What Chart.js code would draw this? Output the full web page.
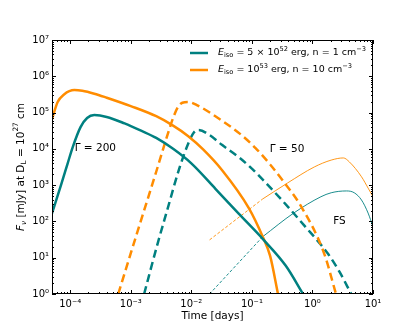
<!DOCTYPE html>
<html>
<head>
<meta charset="utf-8">
<script src="https://cdn.jsdelivr.net/npm/chart.js@4.4.1/dist/chart.umd.min.js"></script>
<style>
  html, body { margin: 0; padding: 0; background: #fff; }
</style>
</head>
<body>
<canvas id="fluxChart" width="415" height="332"></canvas>
<script>
// light curves: time in days, flux density in mJy
const rsTeal200T = [4.9e-5, 7.1e-5, 9.0e-5, 1.1e-4, 1.48e-4, 1.9e-4, 2.5e-4, 4.0e-4, 7.9e-4, 1.48e-3, 2.63e-3, 5.0e-3, 1.0e-2, 2.5e-2, 6.0e-2, 0.151, 0.363, 0.70];
const rsTeal200F = [151, 1050, 3800, 11200, 39800, 70800, 85100, 75900, 50100, 31600, 20000, 10000, 3980, 794, 166, 33, 6.0, 1];

const rsOrange200T = [4.9e-5, 6.2e-5, 7.9e-5, 1.17e-4, 1.58e-4, 2.5e-4, 4.0e-4, 1.0e-3, 2.63e-3, 5.0e-3, 8.9e-3, 1.58e-2, 3.2e-2, 8.9e-2, 0.151, 0.2, 0.27];
const rsOrange200F = [5.9e4, 1.95e5, 3.16e5, 4.17e5, 3.98e5, 3.31e5, 2.57e5, 1.51e5, 7.94e4, 4.37e4, 2.24e4, 9550, 2630, 234, 38, 11.2, 1];

const rsOrange50T = [6.2e-4, 1.26e-3, 2.63e-3, 3.98e-3, 5.0e-3, 6.0e-3, 7.1e-3, 8.9e-3, 1.26e-2, 3.2e-2, 6.3e-2, 0.115, 0.2, 0.316, 0.646, 1.55, 2.45];
const rsOrange50F = [1, 46, 2340, 2.24e4, 7.1e4, 1.41e5, 1.86e5, 1.95e5, 1.58e5, 6.0e4, 2.63e4, 1.05e4, 3720, 1410, 263, 13.5, 1];

const rsTeal50T = [1.66e-3, 2.82e-3, 3.98e-3, 6.3e-3, 8.9e-3, 1.1e-2, 1.32e-2, 2.0e-2, 3.2e-2, 6.3e-2, 0.102, 0.138, 0.316, 0.724, 1.82, 2.82, 4.37];
const rsTeal50F = [1, 27, 200, 2820, 1.41e4, 2.82e4, 3.31e4, 2.4e4, 1.29e4, 5620, 2750, 1660, 380, 79, 12.6, 4, 1];

// forward shock, dashed before the crossing time
const fsOrangeEarlyT = [0.02, 0.151];
const fsOrangeEarlyF = [31, 417];
const fsOrangeT = [0.151, 0.389, 1.07, 2.04, 3.24, 4.07, 6.46, 8.3, 10];
const fsOrangeF = [417, 1150, 3160, 4900, 5620, 4370, 1700, 830, 479];

const fsTealEarlyT = [0.02, 0.151];
const fsTealEarlyF = [1, 38];
const fsTealT = [0.151, 0.49, 1.38, 2.04, 3.63, 4.9, 6.46, 8.3, 10];
const fsTealF = [38, 170, 479, 617, 692, 617, 389, 170, 71];

const xTickValues = [1e-4, 1e-3, 1e-2, 1e-1, 1, 10];
const xTickLabels = ['10⁻⁴', '10⁻³', '10⁻²', '10⁻¹', '10⁰', '10¹'];
const yTickValues = [1, 10, 100, 1e3, 1e4, 1e5, 1e6, 1e7];
const yTickLabels = ['10⁰', '10¹', '10²', '10³', '10⁴', '10⁵', '10⁶', '10⁷'];

const TEAL = '#008080';
const ORANGE = '#ff8c00';
const FONT = '"DejaVu Sans", sans-serif';

function pts(t, f) {
    return t.map((v, i) => ({ x: v, y: f[i] }));
}

function line(t, f, color, width, dash) {
    return {
        data: pts(t, f),
        borderColor: color,
        borderWidth: width,
        borderDash: dash || [],
        showLine: true,
        pointRadius: 0,
        cubicInterpolationMode: 'monotone',
        fill: false
    };
}

// text with italic / sub / superscript pieces, like matplotlib mathtext
function rich(ctx, x, y, parts, size, draw) {
    let cx = x;
    parts.forEach(p => {
        const small = p.sub || p.sup;
        const s = small ? size * 0.7 : size;
        ctx.font = (p.it ? 'italic ' : '') + s + 'px ' + FONT;
        const dy = p.sub ? size * 0.28 : (p.sup ? -size * 0.42 : 0);
        if (draw) ctx.fillText(p.t, cx, y + dy);
        cx += ctx.measureText(p.t).width;
    });
    return cx - x;
}

const legendItems = [
    { color: TEAL, parts: [{ t: 'E', it: true }, { t: 'iso', sub: true }, { t: ' = 5 × 10' }, { t: '52', sup: true }, { t: ' erg, n = 1 cm' }, { t: '−3', sup: true }] },
    { color: ORANGE, parts: [{ t: 'E', it: true }, { t: 'iso', sub: true }, { t: ' = 10' }, { t: '53', sup: true }, { t: ' erg, n = 10 cm' }, { t: '−3', sup: true }] }
];

const yTitle = [{ t: 'F', it: true }, { t: 'ν', it: true, sub: true }, { t: ' [mJy] at D' }, { t: 'L', sub: true }, { t: ' = 10' }, { t: '27', sup: true }, { t: ' cm' }];

// label positions in data coordinates
const notes = [
    { text: 'Γ = 200', t: 2.6e-4, f: 1.05e4 },
    { text: 'Γ = 50', t: 0.38, f: 1.0e4 },
    { text: 'FS', t: 2.8, f: 98 }
];

const decorations = {
    id: 'decorations',
    afterDraw(chart) {
        const { ctx, chartArea: a, scales: { x, y } } = chart;
        ctx.save();

        // frame
        ctx.strokeStyle = '#000';
        ctx.lineWidth = 1;
        ctx.strokeRect(Math.round(a.left) + 0.5, Math.round(a.top) + 0.5, Math.round(a.width) - 1, Math.round(a.height) - 1);

        // inward ticks on all four sides
        ctx.beginPath();
        for (let e = -5; e <= 1; e++) {
            for (let d = 1; d <= 9; d++) {
                const v = d * Math.pow(10, e);
                if (v < x.min || v > x.max) continue;
                const px = Math.round(x.getPixelForValue(v)) + 0.5;
                const len = d === 1 ? 4 : 2;
                ctx.moveTo(px, a.bottom); ctx.lineTo(px, a.bottom - len);
                ctx.moveTo(px, a.top); ctx.lineTo(px, a.top + len);
            }
        }
        for (let e = 0; e <= 7; e++) {
            for (let d = 1; d <= 9; d++) {
                const v = d * Math.pow(10, e);
                if (v < y.min || v > y.max) continue;
                const py = Math.round(y.getPixelForValue(v)) + 0.5;
                const len = d === 1 ? 4 : 2;
                ctx.moveTo(a.left, py); ctx.lineTo(a.left + len, py);
                ctx.moveTo(a.right, py); ctx.lineTo(a.right - len, py);
            }
        }
        ctx.stroke();

        ctx.fillStyle = '#000';
        ctx.textBaseline = 'middle';

        // legend
        legendItems.forEach((item, i) => {
            const ly = 53 + i * 17;
            ctx.strokeStyle = item.color;
            ctx.lineWidth = 2.5;
            ctx.beginPath();
            ctx.moveTo(190, ly); ctx.lineTo(208, ly);
            ctx.stroke();
            ctx.textAlign = 'left';
            rich(ctx, 218, ly, item.parts, 9.5, true);
        });

        // annotations
        ctx.font = '10.5px ' + FONT;
        ctx.textAlign = 'center';
        notes.forEach(n => {
            ctx.fillText(n.text, x.getPixelForValue(n.t), y.getPixelForValue(n.f));
        });

        // x title
        ctx.font = '10.5px ' + FONT;
        ctx.fillText('Time [days]', (a.left + a.right) / 2, 316);

        // y title, rotated
        ctx.textAlign = 'left';
        const w = rich(ctx, 0, 0, yTitle, 10.5, false);
        ctx.translate(21, (a.top + a.bottom) / 2);
        ctx.rotate(-Math.PI / 2);
        rich(ctx, -w / 2, 0, yTitle, 10.5, true);

        ctx.restore();
    }
};

new Chart(document.getElementById('fluxChart'), {
    type: 'scatter',
    data: {
        datasets: [
            line(rsTeal200T, rsTeal200F, TEAL, 2.5),
            line(rsOrange200T, rsOrange200F, ORANGE, 2.5),
            line(rsOrange50T, rsOrange50F, ORANGE, 2.5, [8, 4.5]),
            line(rsTeal50T, rsTeal50F, TEAL, 2.5, [8, 4.5]),
            line(fsOrangeEarlyT, fsOrangeEarlyF, ORANGE, 0.9, [3, 2]),
            line(fsOrangeT, fsOrangeF, ORANGE, 0.9),
            line(fsTealEarlyT, fsTealEarlyF, TEAL, 0.9, [3, 2]),
            line(fsTealT, fsTealF, TEAL, 0.9)
        ]
    },
    options: {
        responsive: false,
        animation: false,
        layout: { padding: { top: 40, right: 42, left: 0, bottom: 0 } },
        plugins: {
            legend: { display: false },
            tooltip: { enabled: false }
        },
        scales: {
            x: {
                type: 'logarithmic',
                min: 5e-5,
                max: 10,
                afterBuildTicks: axis => { axis.ticks = xTickValues.map(v => ({ value: v })); },
                afterFit: axis => { axis.height = 38; },
                grid: { display: false, drawTicks: false },
                border: { display: false },
                ticks: {
                    autoSkip: false,
                    maxRotation: 0,
                    padding: 4,
                    color: '#000',
                    font: { family: FONT, size: 10 },
                    callback: (v, i) => xTickLabels[i]
                }
            },
            y: {
                type: 'logarithmic',
                min: 1,
                max: 1e7,
                afterBuildTicks: axis => { axis.ticks = yTickValues.map(v => ({ value: v })); },
                afterFit: axis => { axis.width = 52; },
                grid: { display: false, drawTicks: false },
                border: { display: false },
                ticks: {
                    autoSkip: false,
                    padding: 3,
                    color: '#000',
                    font: { family: FONT, size: 10 },
                    callback: (v, i) => yTickLabels[i]
                }
            }
        }
    },
    plugins: [decorations]
});
</script>
</body>
</html>
